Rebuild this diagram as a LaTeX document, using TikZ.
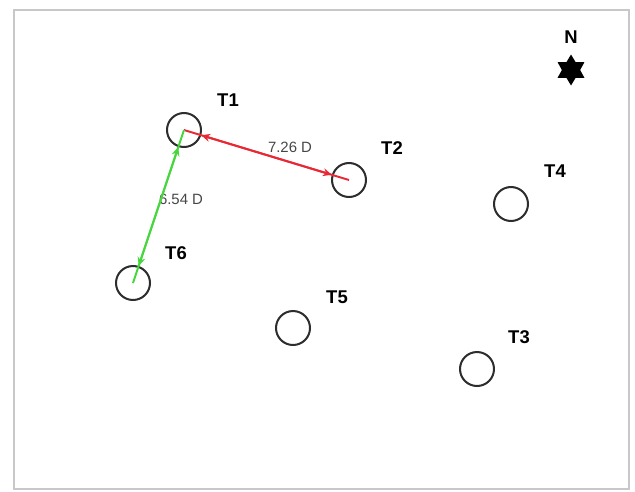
\documentclass[tikz,border=0pt]{standalone}
\usepackage{fontspec}
\setmainfont{Liberation Sans}
\definecolor{framegray}{RGB}{200, 200, 200}
\definecolor{treegray}{RGB}{45, 45, 45}
\definecolor{linkred}{RGB}{232, 40, 52}
\definecolor{linkgreen}{RGB}{70, 215, 60}
\definecolor{distgray}{RGB}{70, 70, 70}
\usetikzlibrary{shapes.geometric, arrows.meta, positioning}

\tikzset{
  tree/.style={circle, draw=treegray, line width=1.15pt, minimum size=0.68cm, inner sep=0pt},
  treelabel/.style={font=\fontsize{10.5}{12}\selectfont\bfseries, text=black},
  distlabel/.style={font=\fontsize{8.5}{10}\selectfont, text=distgray},
  link/.style={line width=1.1pt},
  linktips/.style={line width=1.1pt, {Stealth[length=5pt, width=4.5pt]}-{Stealth[length=5pt, width=4.5pt]}}
}

\begin{document}
\begin{tikzpicture}[x=0.02cm, y=-0.02cm]
  \useasboundingbox (0, 0) rectangle (635, 491);

  % Frame
  \draw[framegray, line width=1.2pt] (14, 10) rectangle (629, 489);

  % North marker
  \node[font=\fontsize{10.5}{12}\selectfont\bfseries] (north) at (571, 37) {N};
  \node[star, star points=6, star point ratio=1.7, fill=black, inner sep=0pt, minimum size=0.62cm] (star) at (571, 70) {};

  % Trees
  \node[tree] (t1) at (184, 130) {};
  \node[tree] (t2) at (349, 180) {};
  \node[tree] (t3) at (477, 369) {};
  \node[tree] (t4) at (511, 204) {};
  \node[tree] (t5) at (293, 328) {};
  \node[tree] (t6) at (133, 283) {};

  % Labels
  \node[treelabel] (l1) at (228, 100) {T1};
  \node[treelabel] (l2) at (392, 148) {T2};
  \node[treelabel] (l3) at (519, 337) {T3};
  \node[treelabel] (l4) at (555, 171) {T4};
  \node[treelabel] (l5) at (337, 297) {T5};
  \node[treelabel] (l6) at (176, 253) {T6};

  % Distances
  \node[distlabel] (d12) at (290, 147) {7.26 D};
  \node[distlabel] (d16) at (181, 199) {6.54 D};

  \draw[link, linkred] (t1.center) -- (t2.center);
  \draw[linktips, linkred] (t1) -- (t2);
  \draw[link, linkgreen] (t1.center) -- (t6.center);
  \draw[linktips, linkgreen] (t1) -- (t6);
\end{tikzpicture}
\end{document}
